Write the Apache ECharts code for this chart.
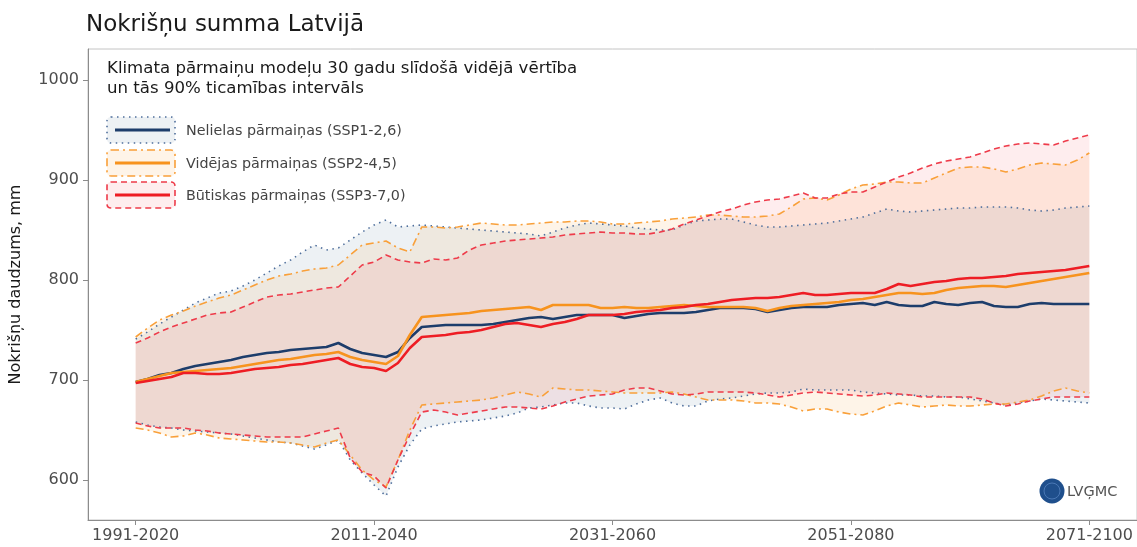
<!DOCTYPE html>
<html>
<head>
<meta charset="utf-8">
<script src="https://cdn.jsdelivr.net/npm/echarts@6/dist/echarts.min.js"></script>
<style>
  html, body { margin: 0; padding: 0; background: #fff; }
  #chart { width: 1137px; height: 547px; }
</style>
</head>
<body>
<div id="chart"></div>
<script>
  // start year of each 30-year window (1991-2020 ... 2071-2100)
  const periodStart = [
    1991, 1992, 1993, 1994, 1995, 1996, 1997, 1998, 1999, 2000,
    2001, 2002, 2003, 2004, 2005, 2006, 2007, 2008, 2009, 2010,
    2011, 2012, 2013, 2014, 2015, 2016, 2017, 2018, 2019, 2020,
    2021, 2022, 2023, 2024, 2025, 2026, 2027, 2028, 2029, 2030,
    2031, 2032, 2033, 2034, 2035, 2036, 2037, 2038, 2039, 2040,
    2041, 2042, 2043, 2044, 2045, 2046, 2047, 2048, 2049, 2050,
    2051, 2052, 2053, 2054, 2055, 2056, 2057, 2058, 2059, 2060,
    2061, 2062, 2063, 2064, 2065, 2066, 2067, 2068, 2069, 2070,
    2071
  ];
  const tickYears = [1991, 2011, 2031, 2051, 2071];
  const tickLabels = ['1991-2020', '2011-2040', '2031-2060', '2051-2080', '2071-2100'];
  const yTicks = [600, 700, 800, 900, 1000];

  const scenarioNames = [
    'Nelielas pārmaiņas (SSP1-2,6)',
    'Vidējas pārmaiņas (SSP2-4,5)',
    'Būtiskas pārmaiņas (SSP3-7,0)'
  ];

  // SSP1-2.6
  const ssp126Mean = [
    698, 701, 705, 707, 711, 714, 716, 718, 720, 723,
    725, 727, 728, 730, 731, 732, 733, 737, 731, 727,
    725, 723, 728, 742, 753, 754, 755, 755, 755, 755,
    756, 758, 760, 762, 763, 761, 763, 765, 765, 765,
    765, 762, 764, 766, 767, 767, 767, 768, 770, 772,
    772, 772, 771, 768, 770, 772, 773, 773, 773, 775,
    776, 777, 775, 778, 775, 774, 774, 778, 776, 775,
    777, 778, 774, 773, 773, 776, 777, 776, 776, 776,
    776
  ];
  const ssp126Low = [
    658, 655, 653, 652, 650, 649, 648, 647, 646, 644,
    642, 640, 638, 637, 634, 631, 635, 640, 620, 607,
    595, 584, 613, 635, 651, 654, 656, 658, 659, 660,
    662, 664, 667, 672, 673, 675, 677, 677, 674, 672,
    672, 671, 676, 680, 682, 677, 674, 674, 679, 681,
    682, 684, 686, 687, 687, 688, 691, 690, 690, 690,
    690, 688, 687, 686, 685, 685, 684, 684, 683, 683,
    681, 679, 677, 675, 677, 679, 681, 680, 679, 678,
    677
  ];
  const ssp126High = [
    741, 748, 756, 763, 770, 777, 782, 787, 789, 794,
    800, 807, 814, 820, 828, 835, 830, 832, 840, 848,
    855, 860, 853, 854, 855, 854, 853, 852, 851, 850,
    849, 848, 847, 846, 844, 848, 852, 855, 857, 856,
    855, 854, 852, 851, 850, 850, 855, 859, 860, 861,
    861, 858, 855, 853, 853, 854, 855, 856, 857, 859,
    861, 863, 867, 871, 869, 868, 869, 870, 871, 872,
    872, 873, 873, 873, 872, 870, 869, 870, 872, 873,
    874
  ];

  // SSP2-4.5
  const ssp245Mean = [
    698, 701, 704, 707, 708, 709, 710, 711, 712, 714,
    716, 718, 720, 721, 723, 725, 726, 728, 723, 720,
    718, 716, 724, 745, 763, 764, 765, 766, 767, 769,
    770, 771, 772, 773, 770, 775, 775, 775, 775, 772,
    772, 773, 772, 772, 773, 774, 775, 774, 773, 773,
    773, 773, 772, 769, 772, 774, 775, 776, 777, 778,
    780, 781, 783, 785, 787, 787, 786, 787, 790, 792,
    793, 794, 794, 793, 795, 797, 799, 801, 803, 805,
    807
  ];
  const ssp245Low = [
    652, 650, 647, 643, 644, 647, 645, 642, 641, 640,
    639, 638, 638, 637, 635, 633, 637, 640, 625, 610,
    600, 593, 620, 650, 675, 676, 677, 678, 679, 680,
    682, 685, 688, 686, 683, 692, 691, 690, 690, 689,
    688, 687, 687, 687, 687, 688, 686, 683, 680, 680,
    680, 679, 677, 677, 676, 673, 669, 671, 671, 668,
    666, 665, 669, 674, 677, 675, 673, 674, 675, 674,
    674, 675, 676, 676, 678, 680, 684, 689, 692, 689,
    687
  ];
  const ssp245High = [
    743, 752, 760, 765, 769, 774, 778, 782, 785, 790,
    795, 800, 804, 806, 809, 811, 812, 815, 825, 835,
    837, 839, 832, 828, 853, 853, 852, 853, 855, 857,
    856, 855, 855, 856, 857, 858, 858, 859, 859, 858,
    856, 856, 857, 858, 859, 861, 862, 863, 865, 865,
    864, 863, 863, 864, 866, 873, 881, 882, 880, 885,
    891, 895, 896, 898, 898, 897, 897, 902, 907, 912,
    913, 913, 911, 908, 911, 915, 917, 916, 915, 920,
    927
  ];

  // SSP3-7.0
  const ssp370Mean = [
    697, 699, 701, 703, 707, 707, 706, 706, 707, 709,
    711, 712, 713, 715, 716, 718, 720, 722, 716, 713,
    712, 709, 717, 732, 743, 744, 745, 747, 748, 750,
    753, 756, 757, 755, 753, 756, 758, 761, 765, 765,
    765, 766, 768, 769, 770, 772, 773, 775, 776, 778,
    780, 781, 782, 782, 783, 785, 787, 785, 785, 786,
    787, 787, 787, 791, 796, 794, 796, 798, 799, 801,
    802, 802, 803, 804, 806, 807, 808, 809, 810, 812,
    814
  ];
  const ssp370Low = [
    657, 654, 652, 652, 652, 650, 649, 647, 646, 645,
    644, 643, 643, 643, 643, 646, 649, 652, 622, 608,
    604, 592, 620, 645, 668, 670, 668, 665, 667, 669,
    671, 673, 673, 672, 671, 674, 678, 681, 684, 685,
    686, 690, 692, 692, 689, 686, 685, 686, 688, 688,
    688, 688, 687, 685, 683, 685, 687, 688, 687, 686,
    685, 684, 685, 687, 686, 685, 683, 683, 683, 683,
    683, 681, 677, 674, 676, 679, 681, 683, 683, 683,
    683
  ];
  const ssp370High = [
    737, 742, 748, 753, 757, 761, 765, 767, 768, 773,
    778, 783, 785, 786, 788, 790, 792, 793, 804, 815,
    818, 825, 820, 818, 817, 821, 820, 822, 830, 835,
    837, 839, 840, 841, 842, 843, 845, 846, 847, 848,
    847, 847, 846, 846, 848, 851, 856, 860, 864, 868,
    871, 875, 878, 880, 881, 884, 887, 882, 882, 886,
    888, 888, 893, 898, 903, 907, 912, 916, 919, 921,
    923, 927, 931, 934, 936, 937, 936, 935, 939, 942,
    945
  ];

  const FONT = '"DejaVu Sans", sans-serif';

  const scenarios = [
    { mean: ssp126Mean, low: ssp126Low, high: ssp126High,
      line: '#1d3d6b', bound: '#4f6f9c', fill: 'rgba(31,78,121,0.08)', dash: [1.5, 4.5] },
    { mean: ssp245Mean, low: ssp245Low, high: ssp245High,
      line: '#f7931e', bound: '#f9a03a', fill: 'rgba(247,148,30,0.10)', dash: [8, 4, 2, 4] },
    { mean: ssp370Mean, low: ssp370Low, high: ssp370High,
      line: '#ee1d24', bound: '#ee3b4a', fill: 'rgba(238,29,36,0.08)', dash: [6, 4] }
  ];

  const pairs = arr => arr.map((v, i) => [periodStart[i], v]);

  const bandSeries = [];
  const boundSeries = [];
  const meanSeries = [];
  scenarios.forEach((s, k) => {
    // 90% interval as one filled polygon (high edge forward, low edge back)
    bandSeries.push({
      type: 'custom', silent: true, z: 1,
      data: periodStart.map((x, i) => [x, s.low[i], s.high[i]]),
      encode: { x: 0, y: [1, 2] },
      renderItem: (params, api) => {
        if (params.dataIndex !== 0) return null;
        const top = periodStart.map((x, i) => api.coord([x, s.high[i]]));
        const bottom = periodStart.map((x, i) => api.coord([x, s.low[i]])).reverse();
        return {
          type: 'polygon',
          shape: { points: top.concat(bottom) },
          style: { fill: s.fill }
        };
      }
    });
    [s.low, s.high].forEach(b => {
      boundSeries.push({
        type: 'line', data: pairs(b), symbol: 'none', silent: true, z: 2,
        lineStyle: { color: s.bound, width: 1.6, type: s.dash }
      });
    });
    meanSeries.push({
      name: scenarioNames[k], type: 'line', data: pairs(s.mean), symbol: 'none', z: 3,
      lineStyle: { color: s.line, width: 2.6 }
    });
  });

  // legend drawn by hand: framed swatch + line, like the original
  const legendRows = [117, 150, 182];
  const legendGraphics = [];
  scenarios.forEach((s, k) => {
    const y = legendRows[k];
    legendGraphics.push({
      type: 'rect', shape: { x: 107, y: y, width: 68, height: 26, r: 4 },
      style: { fill: s.fill, stroke: s.bound, lineWidth: 1.6, lineDash: s.dash }
    });
    legendGraphics.push({
      type: 'line', shape: { x1: 115, y1: y + 13, x2: 170, y2: y + 13 },
      style: { stroke: s.line, lineWidth: 3 }
    });
    legendGraphics.push({
      type: 'text', x: 186, y: y + 14,
      style: { text: scenarioNames[k], font: '14.3px ' + FONT, fill: '#444', verticalAlign: 'middle' }
    });
  });

  const chart = echarts.init(document.getElementById('chart'));
  chart.setOption({
    animation: false,
    grid: {
      left: 85, right: 0, top: 49, bottom: 27,
      show: true, borderColor: '#c4c4c4', borderWidth: 1
    },
    xAxis: {
      type: 'value', min: 1987, max: 2075,
      splitLine: { show: false },
      axisLine: { show: true, onZero: false, lineStyle: { color: '#8c8c8c' } },
      axisTick: { show: true, length: 5, customValues: tickYears, lineStyle: { color: '#8c8c8c' } },
      axisLabel: {
        customValues: tickYears, margin: 8,
        formatter: v => tickLabels[tickYears.indexOf(v)],
        fontFamily: FONT, fontSize: 16, color: '#4d4d4d'
      }
    },
    yAxis: {
      type: 'value', min: 560, max: 1031,
      name: 'Nokrišņu daudzums, mm', nameLocation: 'middle', nameGap: 64,
      nameTextStyle: { fontFamily: FONT, fontSize: 16, color: '#1a1a1a' },
      splitLine: { show: false },
      axisLine: { show: true, lineStyle: { color: '#8c8c8c' } },
      axisTick: { show: true, length: 5, customValues: yTicks, lineStyle: { color: '#8c8c8c' } },
      axisLabel: {
        customValues: yTicks, margin: 9,
        formatter: v => String(v),
        fontFamily: FONT, fontSize: 16, color: '#4d4d4d'
      }
    },
    graphic: [
      {
        type: 'text', x: 86, y: 25,
        style: { text: 'Nokrišņu summa Latvijā', font: '23px ' + FONT, fill: '#1a1a1a', verticalAlign: 'middle' }
      },
      {
        type: 'text', x: 107, y: 69,
        style: { text: 'Klimata pārmaiņu modeļu 30 gadu slīdošā vidējā vērtība', font: '16.6px ' + FONT, fill: '#1a1a1a', verticalAlign: 'middle' }
      },
      {
        type: 'text', x: 107, y: 89,
        style: { text: 'un tās 90% ticamības intervāls', font: '16.6px ' + FONT, fill: '#1a1a1a', verticalAlign: 'middle' }
      },
      ...legendGraphics,
      // LVĢMC logo
      { type: 'circle', shape: { cx: 1052, cy: 491, r: 12.5 }, style: { fill: '#1f4f8c' } },
      { type: 'circle', shape: { cx: 1052, cy: 491, r: 8 }, style: { fill: 'none', stroke: '#4a78b5', lineWidth: 1 } },
      {
        type: 'text', x: 1067, y: 492,
        style: { text: 'LVĢMC', font: '14.5px ' + FONT, fill: '#555', verticalAlign: 'middle' }
      }
    ],
    series: [...bandSeries, ...boundSeries, ...meanSeries]
  });
</script>
</body>
</html>
